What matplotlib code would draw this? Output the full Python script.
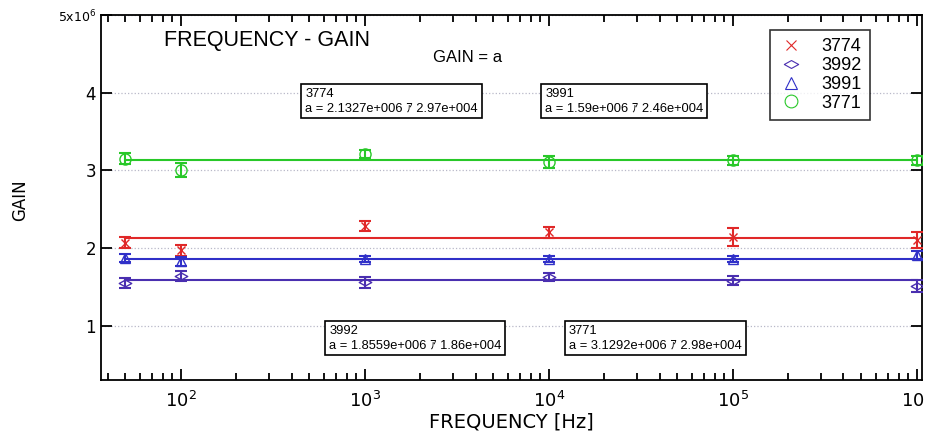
import matplotlib
matplotlib.use('Agg')
import matplotlib.pyplot as plt
from matplotlib.lines import Line2D
from matplotlib.path import Path
from matplotlib.ticker import FixedLocator, FuncFormatter, LogLocator

# measured gain vs frequency, gain in units of 1e6
freq = [50, 100, 1e3, 1e4, 1e5, 1e6]

gain_3774 = [2.07, 1.97, 2.28, 2.20, 2.14, 2.10]
err_3774 = [0.07, 0.07, 0.065, 0.07, 0.12, 0.10]
gain_3992 = [1.55, 1.64, 1.56, 1.63, 1.58, 1.51]
err_3992 = [0.06, 0.06, 0.07, 0.05, 0.06, 0.08]
gain_3991 = [1.87, 1.83, 1.86, 1.86, 1.86, 1.91]
err_3991 = [0.05, 0.06, 0.04, 0.04, 0.04, 0.05]
gain_3771 = [3.15, 3.00, 3.21, 3.11, 3.13, 3.13]
err_3771 = [0.07, 0.09, 0.05, 0.08, 0.06, 0.06]

# constant fits GAIN = a
fit_names = ['3774', '3991', '3992', '3771']
fit_a = [2.1327e6, 1.59e6, 1.8559e6, 3.1292e6]
fit_err = [2.97e4, 2.46e4, 1.86e4, 2.98e4]

red = '#e02828'
purple = '#4a2fb0'
blue = '#3030c8'
green = '#28c828'

# squashed diamond marker
diamond = Path([(-1, 0), (0, 0.55), (1, 0), (0, -0.55), (-1, 0)],
               [Path.MOVETO, Path.LINETO, Path.LINETO, Path.LINETO, Path.CLOSEPOLY])

series = [
    ('3774', gain_3774, err_3774, red, 'x', 6),
    ('3992', gain_3992, err_3992, purple, diamond, 9),
    ('3991', gain_3991, err_3991, blue, '^', 7),
    ('3771', gain_3771, err_3771, green, 'o', 8),
]

fig = plt.figure(figsize=(9.25, 4.47), dpi=100)
ax = fig.add_axes([0.109, 0.150, 0.888, 0.816])
ax.set_xscale('log')
ax.set_xlim(10 ** 1.565, 10 ** 6.03)
ax.set_ylim(0.3e6, 5e6)

fit_colors = [red, purple, blue, green]
for a, c in zip(fit_a, fit_colors):
    ax.plot([freq[0], freq[-1]], [a, a], color=c, lw=1.5, zorder=2)

for name, g, e, c, m, ms in series:
    y = [v * 1e6 for v in g]
    ye = [v * 1e6 for v in e]
    ax.errorbar(freq, y, yerr=ye, fmt='none', ecolor=c, elinewidth=1.5,
                capsize=4, capthick=1.5, zorder=3)
    ax.plot(freq, y, ls='none', marker=m, ms=ms, mfc='none', mec=c,
            mew=1.0, zorder=4)

# axes styling
ax.yaxis.set_major_locator(FixedLocator([1e6, 2e6, 3e6, 4e6, 5e6]))

def ylab(v, pos):
    n = int(round(v / 1e6))
    if n == 5:
        return r'5x10$^{6}$'
    return str(n)

ax.yaxis.set_major_formatter(FuncFormatter(ylab))
ax.xaxis.set_major_locator(LogLocator(base=10, numticks=10))
ax.xaxis.set_minor_locator(LogLocator(base=10, subs=range(2, 10), numticks=20))
ax.tick_params(which='both', direction='in', top=True, right=True, width=1.3)
ax.tick_params(which='major', length=8, labelsize=12)
ax.tick_params(which='minor', length=5)
ax.tick_params(axis='x', which='major', labelsize=13, pad=8)
for lbl in ax.get_yticklabels():
    if 'x10' in lbl.get_text():
        lbl.set_fontsize(9)
for s in ax.spines.values():
    s.set_linewidth(1.3)

ax.grid(axis='y', which='major', ls=':', color='#b8b8c8', lw=0.9)
ax.set_axisbelow(True)

ax.set_xlabel('FREQUENCY [Hz]', fontsize=14, labelpad=1)
fig.text(0.022, 0.553, 'GAIN', rotation=90, fontsize=12, va='center', ha='center')

ax.text(0.077, 0.96, 'FREQUENCY - GAIN', transform=ax.transAxes,
        fontsize=15.5, va='top', ha='left', family='Liberation Sans')
ax.text(0.405, 0.905, 'GAIN = a', transform=ax.transAxes,
        fontsize=12, va='top', ha='left', family='Liberation Sans')

# fit result boxes
box_pos = [(0.249, 0.800), (0.541, 0.800), (0.278, 0.150), (0.570, 0.150)]
for (bx, by), name, a, e in zip(box_pos, fit_names, fit_a, fit_err):
    atxt = '%.5g' % (a / 1e6)
    etxt = '%.3g' % (e / 1e4)
    txt = '%s\na = %se+006 \uff71 %se+004' % (name, atxt, etxt)
    ax.text(bx, by, txt, transform=ax.transAxes, fontsize=9.3, va='top',
            ha='left', linespacing=1.25,
            family=['Liberation Sans', 'Noto Sans CJK JP'],
            bbox=dict(boxstyle='square,pad=0.3', fc='white', ec='black', lw=1.2))

handles = [Line2D([], [], ls='none', marker=m, ms=ms * 1.15, mfc='none', mec=c,
                  mew=0.8, label=name)
           for name, g, e, c, m, ms in series]
leg = ax.legend(handles=handles, loc='upper left', bbox_to_anchor=(0.815, 0.959),
                frameon=True, fancybox=False, borderpad=0.45,
                labelspacing=0.1, handletextpad=1.0, handlelength=1.4,
                borderaxespad=0, prop={'family': 'Liberation Sans', 'size': 13})
leg.get_frame().set_edgecolor('black')
leg.get_frame().set_linewidth(1.2)

plt.savefig('out.png', dpi=100)
